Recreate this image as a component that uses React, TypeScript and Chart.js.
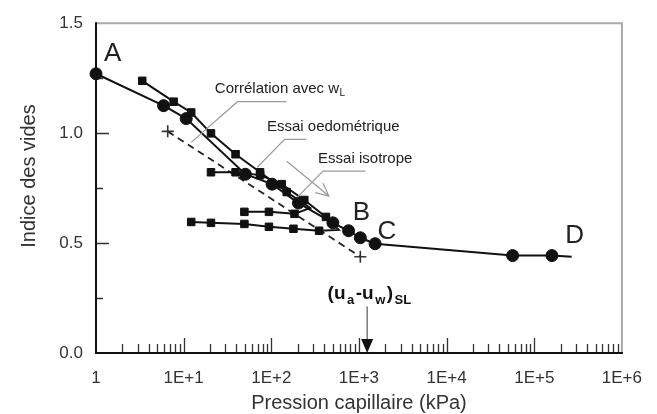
import React, { useEffect, useRef } from 'react';
import { Chart, registerables } from 'chart.js';

Chart.register(...registerables);

// ---------- data (capillary pressure in kPa, void ratio) ----------
const dryingX = [1, 5.9, 10.7, 50.6, 102, 204, 504, 761, 1037, 1528, 56600, 159000, 267000];
const dryingY = [1.27, 1.125, 1.066, 0.813, 0.768, 0.682, 0.592, 0.556, 0.524, 0.497, 0.443, 0.443, 0.438];
const dryingMarked = [1, 1, 1, 1, 1, 1, 1, 1, 1, 1, 1, 1, 0];

const oedoX = [3.37, 7.69, 12.2, 20.5, 39.1, 74.5, 150, 278, 184, 94, 49.3];
const oedoY = [1.238, 1.143, 1.094, 0.999, 0.904, 0.822, 0.732, 0.66, 0.633, 0.642, 0.642];
const oedoMarked = [1, 1, 1, 1, 1, 1, 1, 0, 1, 1, 1];

const isoX = [20.5, 39.1, 74.5, 131.5, 238, 420, 588, 351, 179, 94, 49.3, 20.5, 12.2];
const isoY = [0.822, 0.822, 0.809, 0.768, 0.696, 0.619, 0.56, 0.556, 0.565, 0.574, 0.587, 0.592, 0.596];
const isoMarked = [1, 1, 1, 1, 1, 1, 0, 1, 1, 1, 1, 1, 1];

const corrX = [6.58, 1037];
const corrY = [1.008, 0.438];

// ---------- axes ----------
const xTickValues = [1, 10, 100, 1000, 10000, 100000, 1000000];
const xTickLabels = ['1', '1E+1', '1E+2', '1E+3', '1E+4', '1E+5', '1E+6'];
const yTickValues = [0, 0.5, 1.0, 1.5];
const yTickLabels = ['0.0', '0.5', '1.0', '1.5'];
const yMinorValues = [0.25, 0.75, 1.25];
const xTitle = 'Pression capillaire (kPa)';
const yTitle = 'Indice des vides';

// ---------- annotations (in data coordinates) ----------
const letterText = ['A', 'B', 'C', 'D'];
const letterX = [1.55, 1064, 2080, 288000];
const letterY = [1.36, 0.637, 0.551, 0.533];

const noteText = ['Corrélation avec w', 'Essai oedométrique', 'Essai isotrope'];
const noteSub = ['L', '', ''];
const noteX = [22.7, 89.3, 342];
const noteY = [1.202, 1.03, 0.881];

const leaderLines = [
  [[12.2, 0.958], [41.1, 1.143], [149.6, 1.143]],
  [[69, 0.845], [142, 0.972], [251, 0.972]],
  [[199, 0.709], [389, 0.827], [1180, 0.827]],
];
const pathArrow = [[150, 0.872], [454, 0.714]];

const slX = 1240;
const slLabelY = 0.271;
const slArrowTopY = 0.212;

const FONT = "'Liberation Sans', Arial, sans-serif";

const toPoints = (xs: number[], ys: number[]) => xs.map((v, i) => ({ x: v, y: ys[i] }));

const overlay = {
  id: 'overlay',
  beforeDatasetsDraw(chart: any) {
    const { ctx, chartArea: a, scales } = chart;
    const x = scales.x;
    const y = scales.y;
    ctx.save();
    // top / right frame
    ctx.strokeStyle = '#a9a9a9';
    ctx.lineWidth = 2;
    ctx.beginPath();
    ctx.moveTo(a.left, a.top);
    ctx.lineTo(a.right, a.top);
    ctx.lineTo(a.right, a.bottom);
    ctx.stroke();

    // inward ticks
    ctx.strokeStyle = '#333';
    ctx.lineWidth = 1.3;
    ctx.beginPath();
    for (let d = 0; d < 6; d++) {
      for (let m = 1; m <= 9; m++) {
        if (d === 0 && m === 1) continue;
        const px = Math.round(x.getPixelForValue(m * Math.pow(10, d))) + 0.5;
        const len = m === 1 ? 15 : 9;
        ctx.moveTo(px, a.bottom);
        ctx.lineTo(px, a.bottom - len);
      }
    }
    yTickValues.forEach((v) => {
      if (v === 0 || v === 1.5) return;
      const py = Math.round(y.getPixelForValue(v)) + 0.5;
      ctx.moveTo(a.left, py);
      ctx.lineTo(a.left + 13, py);
    });
    yMinorValues.forEach((v) => {
      const py = Math.round(y.getPixelForValue(v)) + 0.5;
      ctx.moveTo(a.left, py);
      ctx.lineTo(a.left + 7, py);
    });
    ctx.stroke();

    // axes
    ctx.strokeStyle = '#111';
    ctx.lineWidth = 2;
    ctx.beginPath();
    ctx.moveTo(a.left, a.top - 1);
    ctx.lineTo(a.left, a.bottom);
    ctx.lineTo(a.right + 1, a.bottom);
    ctx.stroke();
    ctx.restore();
  },
  afterDraw(chart: any) {
    const { ctx, chartArea: a, scales } = chart;
    const x = scales.x;
    const y = scales.y;
    const P = (vx: number, vy: number) => [x.getPixelForValue(vx), y.getPixelForValue(vy)];
    ctx.save();

    // axis titles
    ctx.fillStyle = '#333';
    ctx.font = `20px ${FONT}`;
    ctx.textAlign = 'center';
    ctx.textBaseline = 'middle';
    ctx.fillText(xTitle, (a.left + a.right) / 2, 403);
    ctx.save();
    ctx.translate(29, 176);
    ctx.rotate(-Math.PI / 2);
    ctx.fillText(yTitle, 0, 0);
    ctx.restore();

    // leader lines
    ctx.strokeStyle = '#9a9a9a';
    ctx.lineWidth = 1.2;
    leaderLines.forEach((line) => {
      ctx.beginPath();
      line.forEach(([vx, vy], i) => {
        const [px, py] = P(vx, vy);
        if (i === 0) ctx.moveTo(px, py);
        else ctx.lineTo(px, py);
      });
      ctx.stroke();
    });
    // open arrow
    {
      const [x0, y0] = P(pathArrow[0][0], pathArrow[0][1]);
      const [x1, y1] = P(pathArrow[1][0], pathArrow[1][1]);
      ctx.beginPath();
      ctx.moveTo(x0, y0);
      ctx.lineTo(x1, y1);
      const ang = Math.atan2(y1 - y0, x1 - x0);
      const hl = 14;
      ctx.moveTo(x1 - hl * Math.cos(ang - 0.45), y1 - hl * Math.sin(ang - 0.45));
      ctx.lineTo(x1, y1);
      ctx.lineTo(x1 - hl * Math.cos(ang + 0.45), y1 - hl * Math.sin(ang + 0.45));
      ctx.stroke();
    }

    // notes
    ctx.fillStyle = '#222';
    ctx.textAlign = 'left';
    ctx.textBaseline = 'middle';
    noteText.forEach((t, i) => {
      const [px, py] = P(noteX[i], noteY[i]);
      ctx.font = `15px ${FONT}`;
      ctx.fillText(t, px, py);
      if (noteSub[i]) {
        const w = ctx.measureText(t).width;
        ctx.font = `10px ${FONT}`;
        ctx.fillText(noteSub[i], px + w + 0.5, py + 5);
      }
    });

    // letters
    ctx.font = `26px ${FONT}`;
    ctx.textAlign = 'center';
    letterText.forEach((t, i) => {
      const [px, py] = P(letterX[i], letterY[i]);
      ctx.fillText(t, px, py);
    });

    // (ua-uw)SL label + arrow
    {
      const ax = x.getPixelForValue(slX);
      const tipY = y.getPixelForValue(0);
      const topY = y.getPixelForValue(slArrowTopY);
      ctx.strokeStyle = '#555';
      ctx.lineWidth = 1.2;
      ctx.beginPath();
      ctx.moveTo(ax, topY);
      ctx.lineTo(ax, tipY - 12);
      ctx.stroke();
      ctx.fillStyle = '#111';
      ctx.beginPath();
      ctx.moveTo(ax - 6, tipY - 14);
      ctx.lineTo(ax + 6, tipY - 14);
      ctx.lineTo(ax, tipY);
      ctx.closePath();
      ctx.fill();

      const parts: [string, boolean][] = [['(u', false], ['a', true], ['-u', false], ['w', true], [')', false], ['SL', true]];
      const big = `bold 19px ${FONT}`;
      const small = `bold 13px ${FONT}`;
      let total = 0;
      parts.forEach(([s, sub]) => { ctx.font = sub ? small : big; total += ctx.measureText(s).width + 1.5; });
      let cx = ax + 3 - total / 2;
      const ly = y.getPixelForValue(slLabelY);
      ctx.textAlign = 'left';
      ctx.fillStyle = '#111';
      parts.forEach(([s, sub]) => {
        ctx.font = sub ? small : big;
        ctx.fillText(s, cx, sub ? ly + 7 : ly);
        cx += ctx.measureText(s).width + 1.5;
      });
    }
    ctx.restore();
  },
};

export default function App() {
  const ref = useRef<HTMLCanvasElement | null>(null);
  useEffect(() => {
    if (!ref.current) return;
    const line = (xs: number[], ys: number[], marked: number[], style: string, r: number) => ({
      data: toPoints(xs, ys),
      showLine: true,
      borderColor: '#111',
      backgroundColor: '#111',
      borderWidth: 2,
      pointStyle: style,
      pointRadius: marked.map((m) => (m ? r : 0)),
      pointBorderWidth: 1,
      pointBackgroundColor: '#111',
      pointBorderColor: '#111',
      clip: false,
      tension: 0,
    });
    const chart = new Chart(ref.current, {
      type: 'scatter',
      data: {
        datasets: [
          line(dryingX, dryingY, dryingMarked, 'circle', 6),
          line(oedoX, oedoY, oedoMarked, 'rect', 5.3),
          line(isoX, isoY, isoMarked, 'rect', 5.3),
          {
            data: toPoints(corrX, corrY),
            showLine: true,
            borderColor: '#222',
            borderWidth: 1.8,
            borderDash: [7, 5],
            pointStyle: 'cross',
            pointRadius: 6,
            pointBorderWidth: 1.6,
            pointBorderColor: '#333',
            clip: false,
          },
        ] as any,
      },
      options: {
        animation: false,
        responsive: false,
        devicePixelRatio: 1,
        layout: { padding: { top: 21, right: 26, left: 0, bottom: 0 } },
        plugins: { legend: { display: false }, tooltip: { enabled: false } },
        scales: {
          x: {
            type: 'logarithmic',
            min: 1,
            max: 1000000,
            grid: { display: false, drawTicks: false },
            border: { display: false },
            afterBuildTicks: (s: any) => { s.ticks = xTickValues.map((v) => ({ value: v })); },
            afterFit: (s: any) => { s.height = 61; },
            ticks: {
              autoSkip: false,
              maxRotation: 0,
              padding: 15,
              color: '#333',
              font: { family: FONT, size: 17 },
              callback: (_v: any, i: number) => xTickLabels[i],
            },
          },
          y: {
            type: 'linear',
            min: 0,
            max: 1.5,
            grid: { display: false, drawTicks: false },
            border: { display: false },
            afterBuildTicks: (s: any) => { s.ticks = yTickValues.map((v) => ({ value: v })); },
            afterFit: (s: any) => { s.width = 96; },
            ticks: {
              padding: 13,
              color: '#333',
              font: { family: FONT, size: 17 },
              callback: (_v: any, i: number) => yTickLabels[i],
            },
          },
        },
      } as any,
      plugins: [overlay],
    });
    return () => chart.destroy();
  }, []);
  return (
    <div style={{ position: 'absolute', left: 0, top: 0, width: 657, height: 414, background: '#fff' }}>
      <canvas ref={ref} width={657} height={414} />
    </div>
  );
}
